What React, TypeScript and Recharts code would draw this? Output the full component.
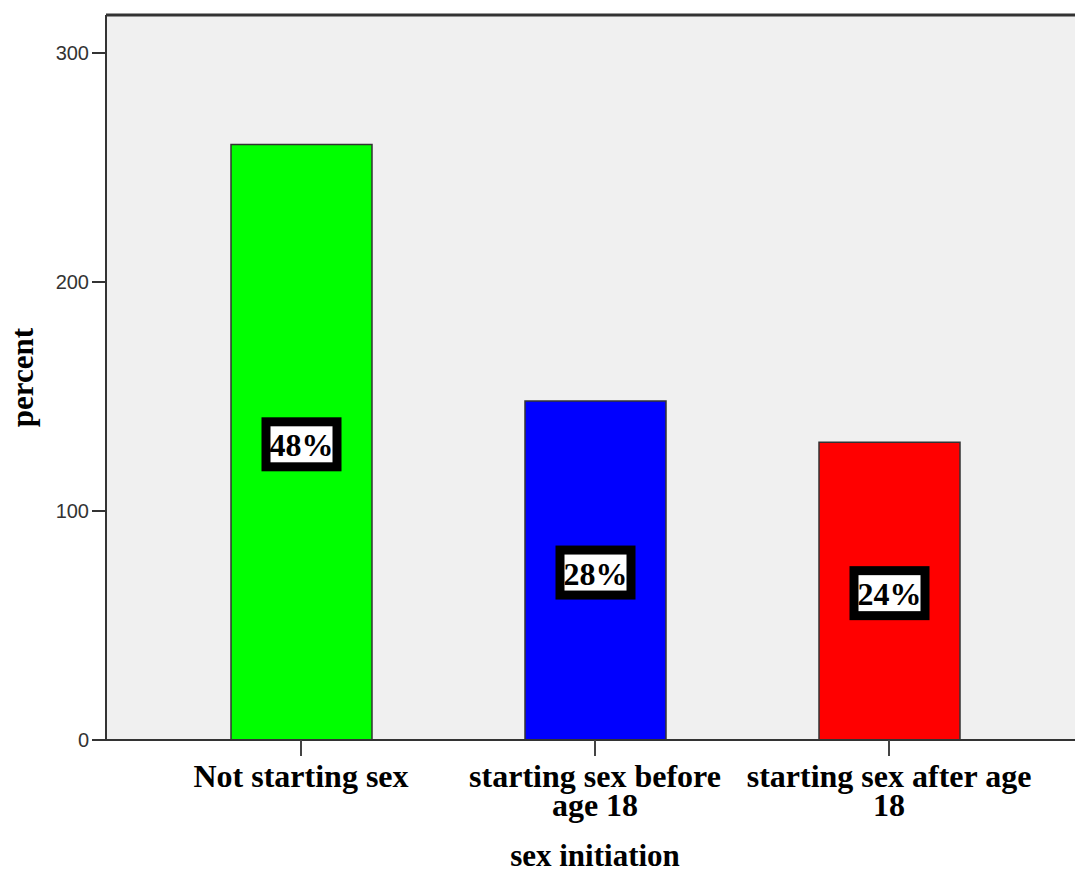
import React from 'react';
import { BarChart, Bar, XAxis, YAxis, CartesianGrid, ReferenceLine, LabelList, Cell } from 'recharts';

const categories = ['Not starting sex', 'starting sex before age 18', 'starting sex after age 18'];
const tickLabelLines = [['Not starting sex'], ['starting sex before', 'age 18'], ['starting sex after age', '18']];
const counts = [260, 148, 130];
const percentLabels = ['48%', '28%', '24%'];
const barColors = ['#00ff00', '#0000ff', '#ff0000'];
const yTicks = [0, 100, 200, 300];
const yMax = 316.6;

const data = categories.map((name, i) => ({ name, value: counts[i], pct: percentLabels[i] }));

const serif = '"Liberation Serif", "Times New Roman", serif';
const sans = '"Liberation Sans", Arial, sans-serif';

const XTick = (props: any) => {
  const { x, y, index } = props;
  const lines = tickLabelLines[index] || [];
  return (
    <g>
      <line x1={x} y1={y - 16} x2={x} y2={y} stroke="#444" strokeWidth={2} />
      <text
        x={x}
        y={y + 31}
        textAnchor="middle"
        style={{ fontFamily: serif, fontWeight: 'bold', fontSize: 32, fill: '#000' }}
      >
        {lines.map((ln, i) => (
          <tspan key={i} x={x} dy={i === 0 ? 0 : 29}>
            {ln}
          </tspan>
        ))}
      </text>
    </g>
  );
};

const PctLabel = (props: any) => {
  const { x, y, width, height, value } = props;
  const cx = x + width / 2;
  const cy = y + height / 2;
  const w = 71;
  const h = 45;
  return (
    <g>
      <rect x={cx - w / 2} y={cy - h / 2 + 2} width={w} height={h} fill="#fff" stroke="#000" strokeWidth={9} />
      <text
        x={cx}
        y={cy + 3}
        textAnchor="middle"
        dominantBaseline="central"
        style={{ fontFamily: serif, fontWeight: 'bold', fontSize: 32, fill: '#000' }}
      >
        {value}
      </text>
    </g>
  );
};

export default function App() {
  return (
    <div style={{ position: 'absolute', left: 0, top: 0, width: 1075, height: 872, overflow: 'hidden', background: '#fff' }}>
      <BarChart
        width={1084}
        height={872}
        data={data}
        margin={{ top: 15, right: 0, bottom: 0, left: 0 }}
      >
        <CartesianGrid horizontal={false} vertical={false} fill="#f0f0f0" />
        <XAxis
          dataKey="name"
          height={132}
          padding={{ left: 48, right: 48 }}
          axisLine={{ stroke: '#333', strokeWidth: 2 }}
          tickLine={false}
          tickSize={16}
          tickMargin={0}
          tick={<XTick />}
          interval={0}
          label={{ value: 'sex initiation', position: 'insideBottom', offset: 6, style: { fontFamily: serif, fontWeight: 'bold', fontSize: 31, fill: '#000' } }}
        />
        <YAxis
          width={106}
          domain={[0, yMax]}
          ticks={yTicks}
          allowDataOverflow
          axisLine={{ stroke: '#333', strokeWidth: 2 }}
          tickLine={{ stroke: '#333', strokeWidth: 2 }}
          tickSize={14}
          tickMargin={3}
          tick={{ fontFamily: sans, fontSize: 20, fill: '#333' }}
          label={{ value: 'percent', angle: -90, position: 'insideLeft', offset: 22, style: { textAnchor: 'middle', fontFamily: serif, fontWeight: 'bold', fontSize: 31, fill: '#000' } }}
        />
        <ReferenceLine y={yMax} stroke="#333" strokeWidth={3} ifOverflow="extendDomain" />
        <Bar dataKey="value" barSize={141} stroke="#333" strokeWidth={1.5} isAnimationActive={false}>
          {data.map((d, i) => (
            <Cell key={d.name} fill={barColors[i]} />
          ))}
          <LabelList dataKey="pct" content={<PctLabel />} />
        </Bar>
      </BarChart>
    </div>
  );
}
